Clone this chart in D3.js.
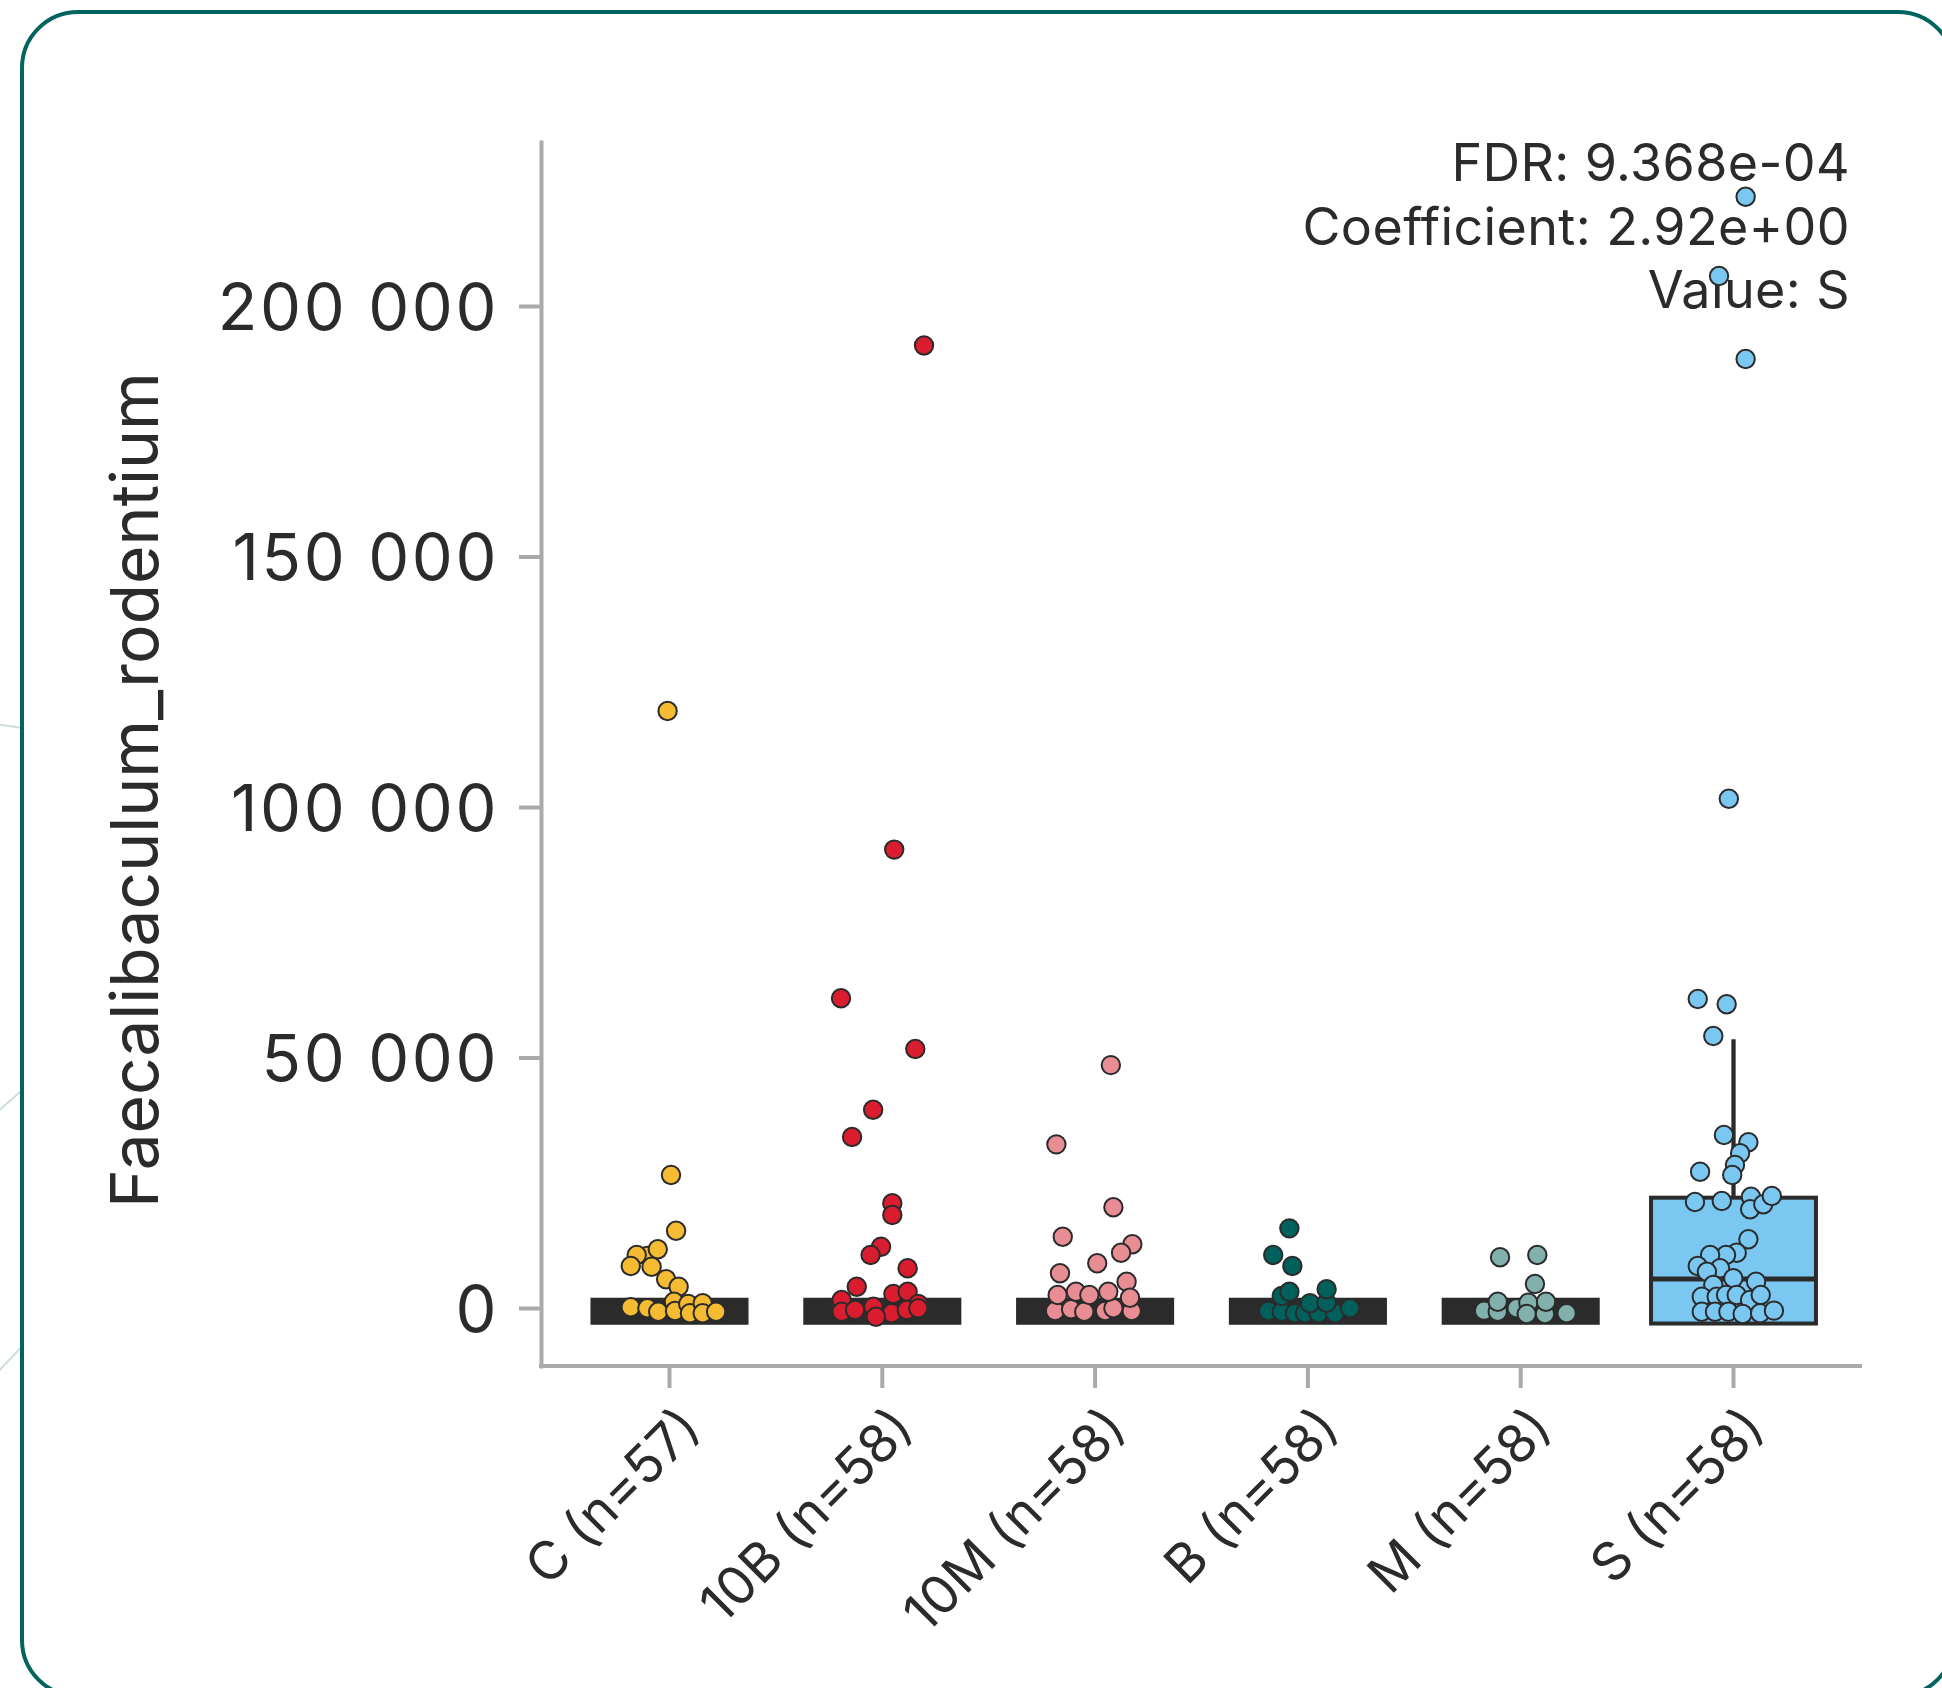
<!DOCTYPE html>
<html><head><meta charset="utf-8">
<script src="https://cdn.jsdelivr.net/npm/d3@7"></script>
<style>html,body{margin:0;padding:0;background:#fff;} svg{display:block;}</style>
</head><body>
<svg id="chart" width="1942" height="1688"></svg>
<script>
// ---------- data ----------
const categories = ["C (n=57)", "10B (n=58)", "10M (n=58)", "B (n=58)", "M (n=58)", "S (n=58)"];
const groupColors = ["#f4bb33", "#d91c2e", "#e98d94", "#00615c", "#82b1ad", "#7ac8f2"];

const yTicks = [0, 50000, 100000, 150000, 200000];
const annotationLines = ["FDR: 9.368e-04", "Coefficient: 2.92e+00", "Value: S"];
const yLabel = "Faecalibaculum_rodentium";

// box statistics per group
const boxQ1 = [-2950, -2950, -2950, -2950, -2950, -3100];
const boxMedian = [0, 0, 0, 0, 0, 5790];
const boxQ3 = [1650, 1650, 1650, 1650, 1650, 22020];
const whiskerHigh = [1650, 1650, 1650, 1650, 1650, 53630];

// visible points (value, jitter in category units)
const valuesC = [10380, 119170, 26550, 15430, 11720, 10580, 8380, 8240, 5730, 4250, 1260, 140, -60, -740, -600, 800, -1060, 940, -1060, -740];
const jitterC = [-0.104, -0.009, 0.007, 0.031, -0.055, -0.154, -0.182, -0.084, -0.016, 0.043, 0.021, -0.182, -0.104, -0.053, 0.026, 0.088, 0.096, 0.156, 0.156, 0.219];

const values10B = [192120, 91500, 61840, 51700, 39580, 34130, 20900, 18560, 12240, 10580, 7920, 4250, 1600, 2790, 3250, 800, -740, -400, 260, -1060, -400, -60, -1740];
const jitter10B = [0.196, 0.056, -0.194, 0.155, -0.043, -0.142, 0.047, 0.047, -0.006, -0.055, 0.119, -0.120, -0.191, 0.052, 0.119, 0.169, -0.191, -0.128, -0.042, 0.044, 0.115, 0.169, -0.030];

const values10M = [48480, 32660, 20100, 14230, 12710, 11040, 8920, 6930, 5250, -600, -260, -740, -600, -600, -60, 2590, 3250, 2590, 3250, 2060];
const jitter10M = [0.074, -0.182, 0.086, -0.152, 0.175, 0.122, 0.010, -0.165, 0.148, -0.188, -0.113, -0.051, 0.047, 0.172, 0.086, -0.176, -0.090, -0.027, 0.062, 0.164];

const valuesB = [15900, 10580, 8380, -600, -740, -1060, -1060, -1060, -1060, -60, 940, 2400, 3250, 1060, 3730];
const jitterB = [-0.087, -0.163, -0.073, -0.186, -0.123, -0.061, -0.014, 0.049, 0.127, 0.198, 0.010, -0.123, -0.087, 0.088, 0.088];

const valuesM = [10120, 10580, 4790, -530, -740, -60, 1260, 1060, -1200, -1200, 1260, -1060];
const jitterM = [-0.097, 0.078, 0.067, -0.172, -0.108, -0.019, -0.108, 0.036, 0.028, 0.114, 0.119, 0.216];

const valuesS = [221820, 205990, 189420, 101640, 61680, 60620, 54290, 34530, 33070, 30880, 28540, 27210, 26550, 21160, 21360, 22220, 19700, 20700, 22360, 13710, 11040, 10580, 10580, 8380, 7920, 7250, 5930, 5250, 4590, 2260, 2260, 2590, 2590, 1600, 2590, -740, -740, -740, -1200, -1060, -530];
const jitterS = [0.057, -0.068, 0.057, -0.022, -0.168, -0.032, -0.095, -0.045, 0.070, 0.031, 0.007, -0.157, -0.006, -0.181, -0.055, 0.082, 0.078, 0.140, 0.180, 0.070, 0.015, -0.035, -0.110, -0.168, -0.063, -0.125, -0.001, 0.106, -0.095, -0.149, -0.079, -0.035, 0.015, 0.078, 0.128, -0.149, -0.087, -0.024, 0.043, 0.125, 0.190];

const groupValues = [valuesC, values10B, values10M, valuesB, valuesM, valuesS];
const groupJitter = [jitterC, jitter10B, jitter10M, jitterB, jitterM, jitterS];

// ---------- layout ----------
const W = 1942, H = 1688;
const plot = {left: 541, right: 1860, top: 142, bottom: 1366};
const textColor = "#2b2b2b";
const axisColor = "#aaaaaa";
const dark = "#2b2b2b";
const font = "Inter, 'Noto Sans', sans-serif";

const svg = d3.select("#chart");

// background decorative lines
const bg = svg.append("g").attr("stroke", "#cfdedb").attr("stroke-width", 2).attr("fill", "none");
[[[-5, 724], [30, 729]], [[-5, 1114], [30, 1083]], [[-5, 1375], [30, 1338]]].forEach(seg => {
  bg.append("line").attr("x1", seg[0][0]).attr("y1", seg[0][1]).attr("x2", seg[1][0]).attr("y2", seg[1][1]);
});

// card
svg.append("rect").attr("x", 22).attr("y", 12).attr("width", 1932).attr("height", 1684)
  .attr("rx", 56).attr("ry", 56).attr("fill", "#fff").attr("stroke", "#02635f").attr("stroke-width", 4);

const y = d3.scaleLinear().domain([-11577, 232735]).range([plot.bottom, plot.top]);
const x = d3.scaleBand().domain(categories).range([563.1, 1839.9]).paddingInner(0).paddingOuter(0);
const bw = x.bandwidth();
const cx = c => x(c) + bw / 2;

const locale = d3.formatLocale({decimal: ".", thousands: " ", grouping: [3], currency: ["", ""]});
const fmt = locale.format(",d");

// y axis
const yAxis = svg.append("g").attr("transform", `translate(${plot.left},0)`)
  .call(d3.axisLeft(y).tickValues(yTicks).tickFormat(fmt).tickSize(22).tickSizeOuter(0).tickPadding(20));
yAxis.select(".domain").attr("stroke", axisColor).attr("stroke-width", 4).attr("stroke-linecap", "square");
yAxis.selectAll(".tick line").attr("stroke", axisColor).attr("stroke-width", 4);
yAxis.selectAll(".tick text").attr("fill", textColor).attr("font-family", font).attr("font-size", 65)
  .attr("letter-spacing", 2.6).attr("dy", "0.36em");

// x axis
const xAxis = svg.append("g").attr("transform", `translate(0,${plot.bottom})`)
  .call(d3.axisBottom(x).tickSize(22).tickSizeOuter(0));
xAxis.select(".domain").attr("d", `M${plot.left},0H${plot.right}`).attr("stroke", axisColor).attr("stroke-width", 4).attr("stroke-linecap", "square");
xAxis.selectAll(".tick line").attr("stroke", axisColor).attr("stroke-width", 4);
xAxis.selectAll(".tick text")
  .attr("fill", textColor).attr("font-family", font).attr("font-size", 53)
  .attr("text-anchor", "end").attr("dy", null).attr("y", null)
  .attr("dominant-baseline", "central")
  .attr("transform", "translate(21,52) rotate(-45)");

// y label
svg.append("text").attr("transform", `translate(158,${(plot.top + plot.bottom) / 2 + 36}) rotate(-90)`)
  .attr("text-anchor", "middle").attr("fill", textColor).attr("font-family", font).attr("font-size", 66)
  .text(yLabel);

// annotation
const ann = svg.append("g").attr("font-family", font).attr("font-size", 52).attr("fill", textColor)
  .attr("text-anchor", "end").attr("letter-spacing", 0.4);
const annBaselines = [181, 245, 308];
annotationLines.forEach((t, i) => ann.append("text").attr("x", 1850).attr("y", annBaselines[i]).text(t));

// boxes
const boxes = svg.append("g");
categories.forEach((c, i) => {
  const collapsed = (boxQ3[i] - boxQ1[i]) < 10000;
  const w = collapsed ? bw * 0.724 : bw * 0.775;
  const x0 = cx(c) - w / 2;
  if (!collapsed) {
    boxes.append("line").attr("x1", cx(c)).attr("x2", cx(c)).attr("y1", y(boxQ3[i])).attr("y2", y(whiskerHigh[i]))
      .attr("stroke", dark).attr("stroke-width", 4.3);
  }
  boxes.append("rect").attr("x", x0).attr("y", y(boxQ3[i])).attr("width", w).attr("height", y(boxQ1[i]) - y(boxQ3[i]))
    .attr("fill", collapsed ? dark : groupColors[i]).attr("stroke", dark).attr("stroke-width", 4);
  if (!collapsed) {
    boxes.append("line").attr("x1", x0).attr("x2", x0 + w).attr("y1", y(boxMedian[i])).attr("y2", y(boxMedian[i]))
      .attr("stroke", dark).attr("stroke-width", 5);
  }
});

// points
const pts = svg.append("g");
categories.forEach((c, i) => {
  const data = groupValues[i].map((v, k) => ({v, j: groupJitter[i][k]}));
  pts.selectAll(null).data(data).enter().append("circle")
    .attr("cx", d => cx(c) + d.j * bw)
    .attr("cy", d => y(d.v))
    .attr("r", 9.2)
    .attr("fill", groupColors[i])
    .attr("stroke", dark).attr("stroke-width", 2);
});
</script>
</body></html>
